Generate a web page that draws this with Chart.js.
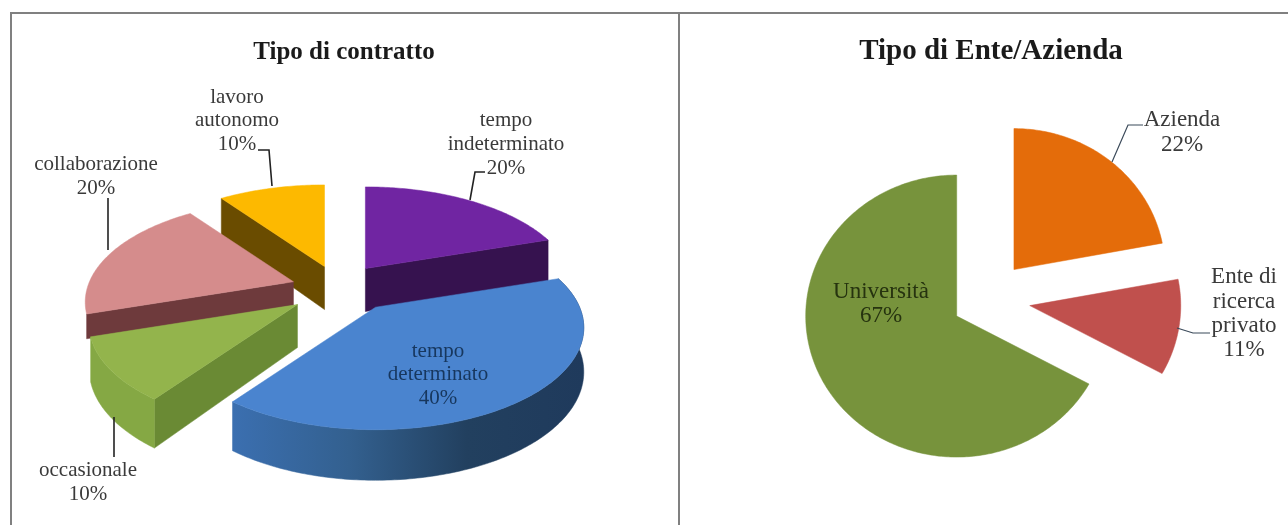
<!DOCTYPE html>
<html lang="it">
<head>
<meta charset="utf-8">
<style>
html,body{margin:0;padding:0;background:#fff;width:1288px;height:525px;overflow:hidden}
.rule{position:absolute;background:#808080}
canvas{position:absolute}
</style>
<script src="https://cdn.jsdelivr.net/npm/chart.js@4/dist/chart.umd.min.js"></script>
</head>
<body>
<div class="rule" style="left:10px;top:12px;width:1278px;height:2px"></div>
<div class="rule" style="left:10px;top:12px;width:2px;height:513px"></div>
<div class="rule" style="left:678px;top:12px;width:2px;height:513px"></div>
<canvas id="left" width="664" height="511" style="left:12px;top:14px"></canvas>
<canvas id="right" width="594" height="511" style="left:694px;top:14px"></canvas>
<script>
// ---- data ----
const contractCategories = [['tempo','indeterminato'],['tempo','determinato'],['occasionale'],['collaborazione'],['lavoro','autonomo']];
const contractValues = [20,40,10,20,10];
const entityCategories = [['Azienda'],['Ente di','ricerca','privato'],['Università']];
const entityValues = [22,11,67];
const contractTitle = 'Tipo di contratto';
const entityTitle = 'Tipo di Ente/Azienda';

// ---- styles ----
const contractColors = ['#7025a2','#4a84cf','#93b44c','#d58c8c','#fdb900'];
const entityColors = ['#e46c0a','#c0504d','#77933c'];
const contractOffsets = [22,28,27,24,23];
const entityOffsets = [28,30,21];
const contractWalls = [
  {end:'#36124f'},
  {arcGrad:['#3b6fb0','#33608f','#22405f','#1f3a5c']},
  {arc:'#85a844',start:'#6a8a34'},
  {start:'#6e3a3c',wallScale:0.55},
  {start:'#6a4c00'}
];
const contractDrawOrder = [4,0,3,2,1];
const contractShift = [[0,-2],[3,-3],[3,1],[1,1],[0,0]];
const entityShift = [[2,0],[0,-1],[-1,1]];
const leftOrigin = [12,14], rightOrigin = [694,14];
const leftCam = {cx:339,cy:288,ax:204,dy:98,g:0.2,depth:43};
const rightCam = {cx:985,cy:300,ax:151,dy:141,g:0,depth:0};
const contractLabels = [
  {x:506,y:[120,144,168],color:'#3a3a3a',lead:[[470,200],[475,172],[485,172]]},
  {x:438,y:[351,374,398],color:'#17375e'},
  {x:88,y:[470,494],color:'#3a3a3a',lead:[[114,417],[114,457]]},
  {x:96,y:[164,188],color:'#3a3a3a',lead:[[108,250],[108,198]]},
  {x:237,y:[97,120,144],color:'#3a3a3a',lead:[[272,186],[269,150],[258,150]]}
];
const entityLabels = [
  {x:1182,y:[120,145],color:'#3a3a3a',lead:[[1112,162],[1128,125],[1143,125]],leadColor:'#3b4a5a'},
  {x:1244,y:[277,302,326,350],color:'#3a3a3a',lead:[[1177,328],[1193,333],[1210,333]],leadColor:'#3b4a5a'},
  {x:881,y:[292,316],color:'#26330f'}
];

function slicePaths(el, cam, origin, shift){
  const a0 = el.startAngle, a1 = el.endAngle, mid = (a0+a1)/2;
  const o = (el.options.offset||0)/el.outerRadius;
  const apx = cam.cx-origin[0]+cam.ax*o*Math.cos(mid)+shift[0];
  const apy = cam.cy-origin[1]+cam.dy*o*Math.sin(mid)+shift[1];
  const proj = a => {
    const u = Math.cos(a), v = Math.sin(a), w = 1-cam.g*v;
    const d = cam.depth/(1-0.15*v);
    return {x:apx+cam.ax*u/w, y:apy+cam.dy*v/w, d};
  };
  const pts = [];
  const n = Math.max(8,Math.ceil((a1-a0)/0.015));
  for(let i=0;i<=n;i++) pts.push(proj(a0+(a1-a0)*i/n));
  return {apx,apy,pts};
}
function poly(ctx,list,fill){
  ctx.beginPath();
  list.forEach((p,i)=> i?ctx.lineTo(p[0],p[1]):ctx.moveTo(p[0],p[1]));
  ctx.closePath();
  ctx.fillStyle = fill; ctx.strokeStyle = fill; ctx.lineWidth = 0.5;
  ctx.fill(); ctx.stroke();
}
const solidPie = {
  id:'solidPie',
  beforeDatasetDraw(chart,args,opts){
    const ctx = chart.ctx, els = chart.getDatasetMeta(0).data;
    const {cam,origin,shift,walls,order} = opts;
    order.forEach(i=>{
      const el = els[i], s = slicePaths(el,cam,origin,shift[i]), P = s.pts, w = walls&&walls[i];
      if(w){
        const k = w.wallScale||1, z0 = cam.depth*k;
        if(w.start){const c=P[0];poly(ctx,[[s.apx,s.apy],[c.x,c.y],[c.x,c.y+c.d*k],[s.apx,s.apy+z0]],w.start);}
        if(w.end){const c=P[P.length-1];poly(ctx,[[s.apx,s.apy],[c.x,c.y],[c.x,c.y+c.d*k],[s.apx,s.apy+z0]],w.end);}
        let fill = w.arc;
        if(w.arcGrad){
          const xs=P.map(p=>p.x),l=Math.min(...xs),r=Math.max(...xs);
          fill=ctx.createLinearGradient(l,0,r,0);
          w.arcGrad.forEach((c,j)=>fill.addColorStop(j/(w.arcGrad.length-1),c));
        }
        if(fill){
          const band = P.map(p=>[p.x,p.y]).concat(P.slice().reverse().map(p=>[p.x,p.y+p.d*k]));
          poly(ctx,band,fill);
        }
      }
      poly(ctx,[[s.apx,s.apy]].concat(P.map(p=>[p.x,p.y])),el.options.backgroundColor);
    });
    return false;
  },
  afterDatasetsDraw(chart,args,opts){
    const ctx = chart.ctx, {origin,labels,labelFont} = opts, ds = chart.data.datasets[0];
    const total = ds.data.reduce((a,b)=>a+b,0);
    ctx.save();
    ctx.font = labelFont; ctx.textAlign='center'; ctx.textBaseline='middle';
    labels.forEach((lab,i)=>{
      if(lab.lead){
        ctx.beginPath();
        lab.lead.forEach((p,k)=> k?ctx.lineTo(p[0]-origin[0],p[1]-origin[1]):ctx.moveTo(p[0]-origin[0],p[1]-origin[1]));
        ctx.strokeStyle = lab.leadColor||'#222'; ctx.lineWidth = lab.leadColor?1.2:1.6; ctx.stroke();
      }
      const lines = chart.data.labels[i].concat([Math.round(ds.data[i]/total*100)+'%']);
      ctx.fillStyle = lab.color;
      lines.forEach((t,k)=>ctx.fillText(t,lab.x-origin[0],lab.y[k]-origin[1]));
    });
    ctx.restore();
  }
};
function makeChart(id,labels,values,colors,offsets,title,pieOpts,titleTop,titleSize){
  return new Chart(document.getElementById(id),{
    type:'pie',
    data:{labels,datasets:[{data:values,backgroundColor:colors,offset:offsets,borderWidth:0}]},
    options:{
      responsive:false,animation:false,radius:100,
      layout:{padding:0},
      plugins:{
        legend:{display:false},tooltip:{enabled:false},
        title:{display:true,text:title,color:'#1a1a1a',font:{family:'"Liberation Serif"',size:titleSize,weight:'bold'},padding:{top:titleTop,bottom:0}},
        solidPie:pieOpts
      }
    },
    plugins:[solidPie]
  });
}
makeChart('left',contractCategories,contractValues,contractColors,contractOffsets,contractTitle,
  {cam:leftCam,origin:leftOrigin,shift:contractShift,walls:contractWalls,order:contractDrawOrder,labels:contractLabels,labelFont:'21px "Liberation Serif"'},24,25);
makeChart('right',entityCategories,entityValues,entityColors,entityOffsets,entityTitle,
  {cam:rightCam,origin:rightOrigin,shift:entityShift,walls:null,order:[0,1,2],labels:entityLabels,labelFont:'23px "Liberation Serif"'},20,29);
</script>
</body>
</html>
